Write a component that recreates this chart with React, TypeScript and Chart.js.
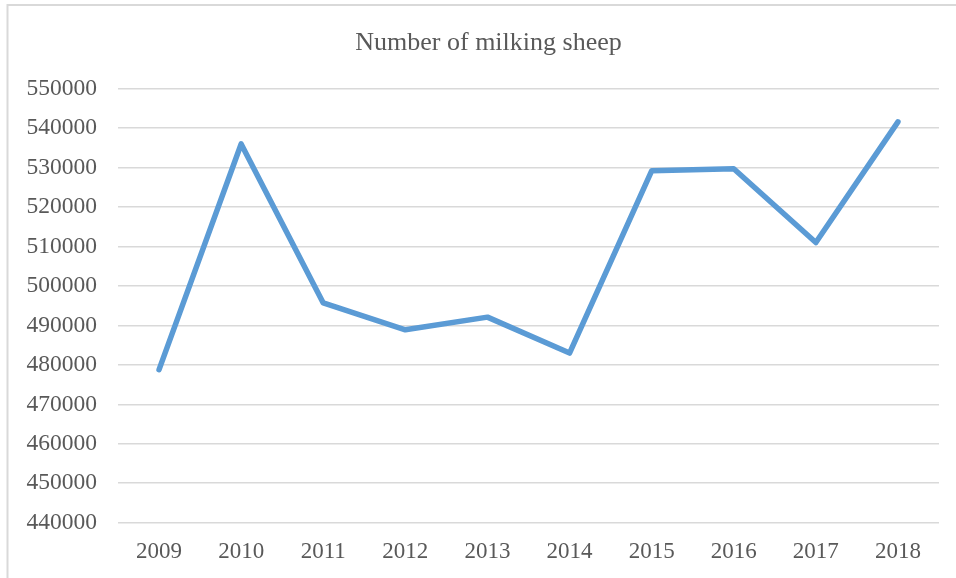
import React, { useEffect, useRef } from "react";
import { Chart, registerables } from "chart.js";

Chart.register(...registerables);

const years = ["2009", "2010", "2011", "2012", "2013", "2014", "2015", "2016", "2017", "2018"];
const milkingSheep = [478800, 536000, 495700, 488900, 492100, 483000, 529200, 529700, 511000, 541600];
const yMin = 440000;
const yMax = 550000;
const yStep = 10000;
const chartTitle = "Number of milking sheep";

const TEXT = "#595959";
const GRID = "#d9d9d9";
const LINE = "#5b9bd5";
const SERIF = "'Liberation Serif', 'Times New Roman', serif";

// Frame line and centered title, drawn on the canvas itself
const framePlugin = {
  id: "frameAndTitle",
  beforeDraw(chart: Chart) {
    const { ctx } = chart;
    ctx.save();
    ctx.fillStyle = "#ffffff";
    ctx.fillRect(0, 0, chart.width, chart.height);
    ctx.strokeStyle = GRID;
    ctx.lineWidth = 2;
    ctx.beginPath();
    ctx.moveTo(7.5, chart.height + 2);
    ctx.lineTo(7.5, 5);
    ctx.lineTo(chart.width + 2, 5);
    ctx.stroke();
    ctx.restore();
  },
  afterDraw(chart: Chart) {
    const { ctx } = chart;
    ctx.save();
    ctx.fillStyle = TEXT;
    ctx.font = `26px ${SERIF}`;
    ctx.textAlign = "center";
    ctx.textBaseline = "alphabetic";
    ctx.fillText(chartTitle, 488.5, 49.5);
    ctx.restore();
  },
};

export default function App() {
  const canvasRef = useRef<HTMLCanvasElement | null>(null);

  useEffect(() => {
    if (!canvasRef.current) return;
    const chart = new Chart(canvasRef.current, {
      type: "line",
      data: {
        labels: years,
        datasets: [
          {
            label: chartTitle,
            data: milkingSheep,
            borderColor: LINE,
            backgroundColor: LINE,
            borderWidth: 5.5,
            borderJoinStyle: "round",
            borderCapStyle: "round",
            pointRadius: 0,
            pointHoverRadius: 0,
            tension: 0,
          },
        ],
      },
      options: {
        animation: false,
        responsive: false,
        maintainAspectRatio: false,
        layout: { padding: { top: 88.7, right: 17, left: 0, bottom: 0 } },
        plugins: {
          legend: { display: false },
          title: { display: false },
          tooltip: { enabled: false },
        },
        scales: {
          x: {
            type: "category",
            offset: true,
            grid: { display: false, drawTicks: false },
            border: { display: false },
            ticks: {
              color: TEXT,
              font: { family: SERIF, size: 23 },
              padding: 15,
              maxRotation: 0,
              autoSkip: false,
            },
            afterFit(scale: any) {
              scale.height = 578 - 522.7;
            },
          },
          y: {
            min: yMin,
            max: yMax,
            grid: { color: GRID, lineWidth: 1.5, drawTicks: false },
            border: { display: false },
            ticks: {
              stepSize: yStep,
              color: TEXT,
              font: { family: SERIF, size: 23.5 },
              padding: 21,
              callback: (v: any) => String(v),
            },
            afterFit(scale: any) {
              scale.width = 118;
            },
          },
        },
      },
      plugins: [framePlugin],
    });
    return () => chart.destroy();
  }, []);

  return (
    <div style={{ position: "fixed", left: 0, top: 0, width: 956, height: 578, background: "#fff" }}>
      <canvas ref={canvasRef} width={956} height={578} style={{ display: "block" }} />
    </div>
  );
}
